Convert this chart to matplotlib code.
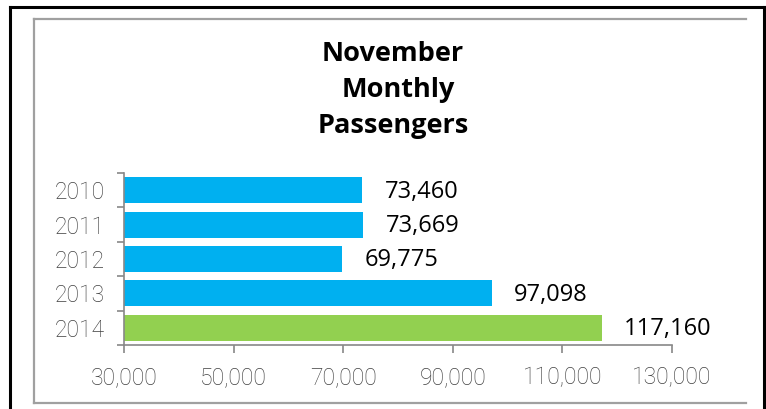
import matplotlib.pyplot as plt
from matplotlib.ticker import FuncFormatter

years = ["2010", "2011", "2012", "2013", "2014"]
passengers = [73460, 73669, 69775, 97098, 117160]
bar_colors = ["#00B0F0", "#00B0F0", "#00B0F0", "#00B0F0", "#92D050"]
x_ticks = [30000, 50000, 70000, 90000, 110000, 130000]

W, H = 766, 409
fig = plt.figure(figsize=(W / 100, H / 100), dpi=100)

# frame lines (outer black, inner gray)
fig.add_artist(plt.Line2D([10 / W, 10 / W], [0, 1 - 6.5 / H], transform=fig.transFigure, color="black", lw=2.2))
fig.add_artist(plt.Line2D([10 / W, 1], [1 - 6.5 / H, 1 - 6.5 / H], transform=fig.transFigure, color="black", lw=2.2))
fig.add_artist(plt.Line2D([764 / W, 764 / W], [0, 1 - 6.5 / H], transform=fig.transFigure, color="black", lw=2.2))
fig.add_artist(plt.Line2D([34 / W, 746 / W], [1 - 18.5 / H, 1 - 18.5 / H], transform=fig.transFigure, color="#A0A0A0", lw=1.6))
fig.add_artist(plt.Line2D([34 / W, 34 / W], [1 - 18.5 / H, 1 - 403 / H], transform=fig.transFigure, color="#A0A0A0", lw=1.6))
fig.add_artist(plt.Line2D([34 / W, 746 / W], [1 - 403 / H, 1 - 403 / H], transform=fig.transFigure, color="#A0A0A0", lw=1.6))

ax = fig.add_axes([124 / W, 1 - 345 / H, (672 - 124) / W, (345 - 173) / H])
pos = list(range(len(years)))
ax.barh(pos, passengers, height=0.76, color=bar_colors, left=0)
ax.set_xlim(30000, 130000)
ax.set_ylim(4.5, -0.5)

for y, v in zip(pos, passengers):
    ax.annotate(f"{v:,}", (v, y), xytext=(16, -1), textcoords="offset points",
                ha="left", va="center", fontsize=17, family="Open Sans", color="black")

ax.set_xticks(x_ticks)
ax.xaxis.set_major_formatter(FuncFormatter(lambda v, p: f"{int(v):,}"))
ax.set_yticks(pos)
ax.set_yticklabels(years)
ax.set_yticks([p + 0.5 for p in [-1] + pos], minor=True)
ax.tick_params(axis="y", which="major", length=0, pad=14)
ax.tick_params(axis="y", which="minor", length=5, color="#888888", width=1.2)
ax.tick_params(axis="x", length=6, color="#888888", width=1.2, pad=9)
for lab in ax.get_xticklabels() + ax.get_yticklabels():
    lab.set_fontfamily(["Roboto", "DejaVu Sans"])
    lab.set_fontweight("light")
    lab.set_fontsize(16.5)
    lab.set_color("#404040")

for s in ["top", "right"]:
    ax.spines[s].set_visible(False)
for s in ["left", "bottom"]:
    ax.spines[s].set_color("#888888")
    ax.spines[s].set_linewidth(1.2)

title_font = dict(ha="center", va="center", fontsize=19.5, fontweight="bold", family="Open Sans")
fig.text(393 / W, 1 - 54 / H, "November", **title_font)
fig.text(398 / W, 1 - 90 / H, "Monthly", **title_font)
fig.text(393 / W, 1 - 126 / H, "Passengers", **title_font)

fig.savefig("out.png", dpi=100)
